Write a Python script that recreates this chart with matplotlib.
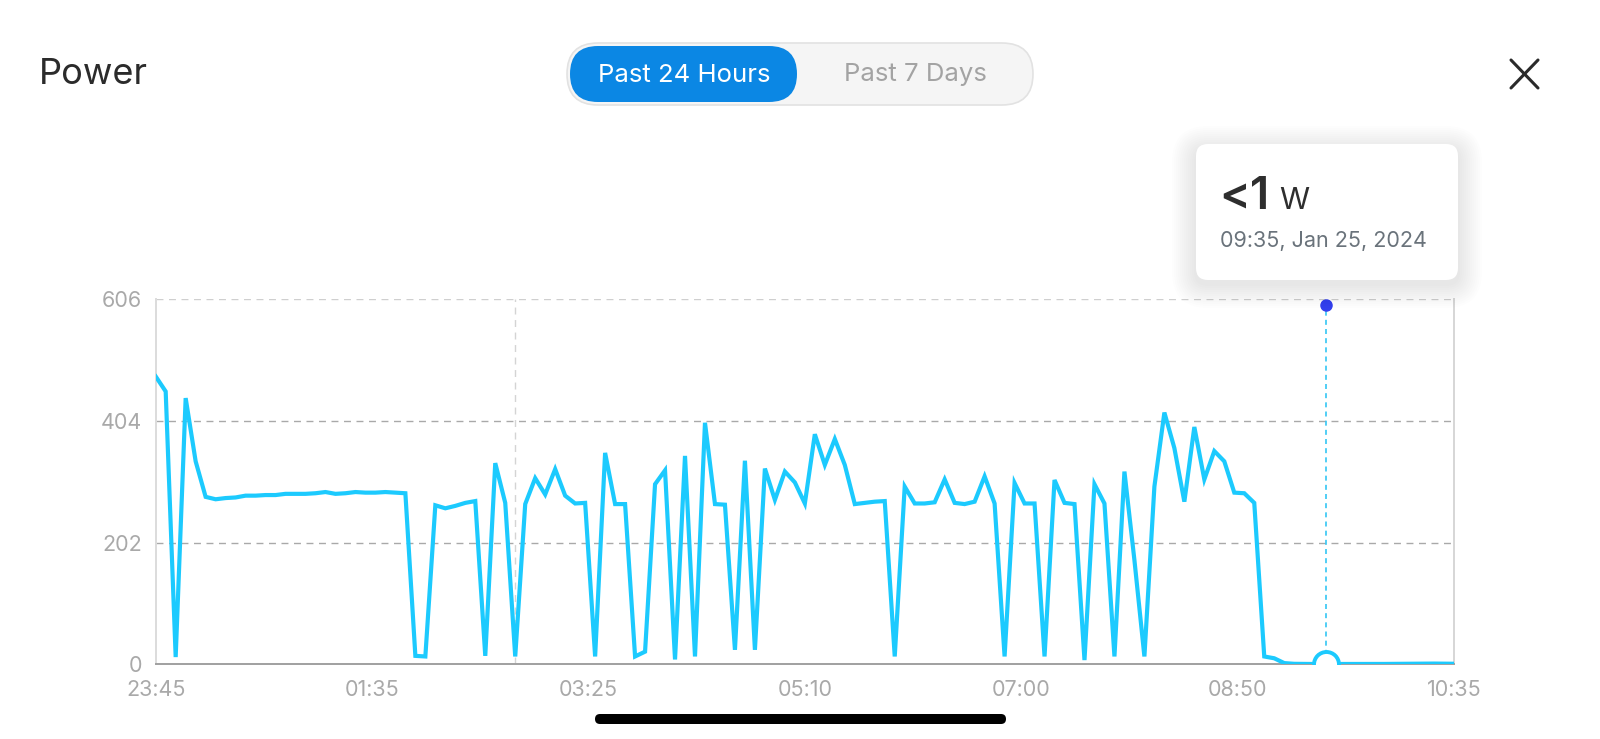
import numpy as np
import matplotlib
matplotlib.use("Agg")
import matplotlib.pyplot as plt
from matplotlib.patches import FancyBboxPatch

plt.rcParams['font.family'] = ['Inter', 'DejaVu Sans']

# power readings every 5 minutes (W)
power = [478, 453, 12, 442, 337, 278, 274, 276, 277, 280,
         280, 281, 281, 283, 283, 283, 284, 286, 283, 284,
         286, 285, 285, 286, 285, 284, 14, 13, 264, 259,
         263, 268, 271, 14, 334, 268, 13, 266, 309, 282,
         324, 280, 267, 268, 13, 351, 266, 266, 13, 21,
         299, 322, 8, 346, 13, 401, 266, 265, 24, 338,
         24, 325, 273, 320, 302, 267, 382, 331, 374, 331,
         266, 268, 270, 271, 13, 295, 267, 267, 269, 307,
         268, 266, 270, 312, 267, 13, 301, 267, 267, 13,
         306, 268, 266, 7, 299, 267, 13, 320, 173, 13,
         295, 418, 359, 270, 394, 307, 354, 337, 285, 284,
         268, 13, 10, 2, 0.8, 0.6, 0.5, 0.5, 0.5, 0.6,
         0.6, 0.5, 0.5, 0.6, 0.7, 0.8, 0.8, 1.0, 1.2, 1.0, 0.9]
minutes = [5 * i for i in range(len(power))]

x_labels = ['23:45', '01:35', '03:25', '05:10', '07:00', '08:50', '10:35']
y_ticks = [0, 202, 404, 606]
span = 650
day_line = 180          # vertical dashed marker
sel_minute = 586        # highlighted sample
sel_value = 0.5
sel_text = '09:35, Jan 25, 2024'

line_color = '#1ccafe'

fig = plt.figure(figsize=(16, 7.39), dpi=100)
ax = fig.add_axes([155.7 / 1600, 74.7 / 739, 1298.3 / 1600, 365 / 739])

ax.plot(minutes, power, color=line_color, lw=3.0, solid_joinstyle='miter', zorder=3)

ax.set_xlim(0, span)
ax.set_ylim(0, 606)
ax.set_yticks(y_ticks)
ax.set_yticklabels([str(v) for v in y_ticks])
ax.set_xticks(np.linspace(0, span, len(x_labels)))
ax.set_xticklabels(x_labels)
ax.tick_params(length=0, colors='#a9a9a9', labelsize=15.5)
ax.tick_params(axis='y', pad=10)
ax.tick_params(axis='x', pad=11)

for v in y_ticks[1:]:
    ax.axhline(v, color='#cfcfcf' if v == 606 else '#a9a9a9', lw=1.0,
               dashes=(5, 4), zorder=1)
ax.axvline(day_line, color='#d4d4d4', lw=1.0, dashes=(5, 4), zorder=1)

ax.spines['top'].set_visible(False)
ax.spines['left'].set_color('#dcdcdc')
ax.spines['right'].set_color('#d6d6d6')
ax.spines['bottom'].set_color('#a0a0a0')
for s in ['left', 'right', 'bottom']:
    ax.spines[s].set_linewidth(1.4)

# selection crosshair
ax.plot([sel_minute, sel_minute], [0, 597], color='#34c6f4', lw=1.2,
        dashes=(3, 2.5), zorder=2)
ax.plot([sel_minute], [597], 'o', ms=8, color='#3340ee', clip_on=False, zorder=5)
ax.plot([sel_minute], [sel_value], 'o', ms=18, mfc='white', mec=line_color,
        mew=2.8, zorder=5)

# overlay in pixel coordinates for the app chrome
ov = fig.add_axes([0, 0, 1, 1], zorder=10)
ov.set_xlim(0, 1600)
ov.set_ylim(739, 0)
ov.axis('off')
ov.patch.set_alpha(0)

fig.text(39 / 1600, 1 - 75 / 739, 'Power', fontsize=26, color='#2b2b2b',
         va='center', ha='left')

ov.add_patch(FancyBboxPatch((567, 43), 466, 62,
                            boxstyle='round,pad=0,rounding_size=31',
                            fc='#f5f5f5', ec='#e2e2e2', lw=1.2))
ov.add_patch(FancyBboxPatch((570, 46), 227, 56,
                            boxstyle='round,pad=0,rounding_size=28',
                            fc='#0b87e4', ec='none'))
ov.text(684, 75, 'Past 24 Hours', fontsize=18.5, color='white', ha='center', va='center')
ov.text(915, 75, 'Past 7 Days', fontsize=18.5, color='#a3a3a3', ha='center', va='center')

ov.plot([1511, 1538], [60, 88], color='#2a2a2a', lw=2.2, solid_capstyle='round')
ov.plot([1538, 1511], [60, 88], color='#2a2a2a', lw=2.2, solid_capstyle='round')

# tooltip with soft shadow
for k in range(12):
    g = 2 + k * 2.0
    ov.add_patch(FancyBboxPatch((1196 - g, 150 - g), 262 + 2 * g, 134 + 2 * g,
                                boxstyle='round,pad=0,rounding_size=%f' % (12 + g),
                                fc='black', ec='none', alpha=0.006))
ov.add_patch(FancyBboxPatch((1196, 144), 262, 136,
                            boxstyle='round,pad=0,rounding_size=12',
                            fc='white', ec='none'))
ov.text(1219, 209, '<1', fontsize=33, color='#2e2e2e', fontweight='semibold',
        ha='left', va='baseline')
ov.text(1279, 209, 'W', fontsize=22, color='#2e2e2e', ha='left', va='baseline')
ov.text(1220, 247, sel_text, fontsize=15.5, color='#6a737b', ha='left', va='baseline')

ov.add_patch(FancyBboxPatch((595, 714), 411, 10,
                            boxstyle='round,pad=0,rounding_size=5',
                            fc='black', ec='none'))

fig.savefig('out.png', dpi=100, facecolor='white')
